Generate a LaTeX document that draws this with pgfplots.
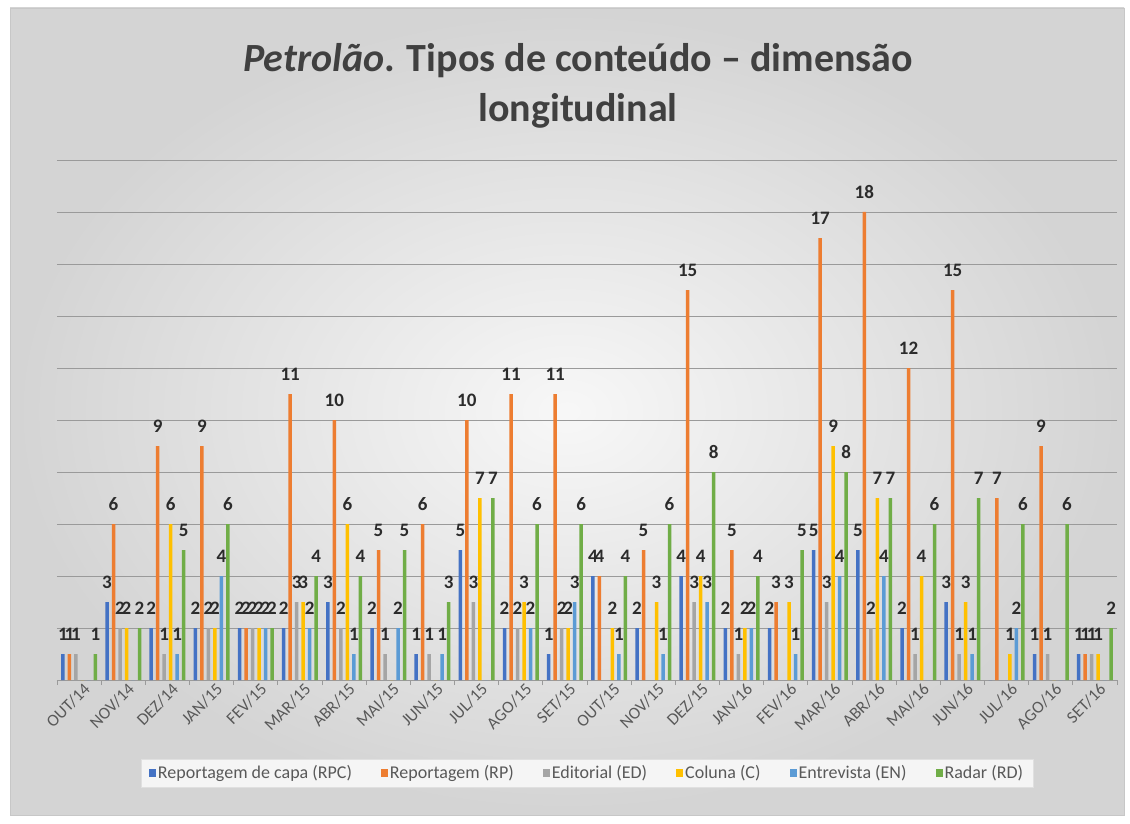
\documentclass[border=0pt]{standalone}
\usepackage{fontspec}
\setmainfont{Carlito}
\usepackage{pgfplots}
\usepackage{pgfplotstable}
\pgfplotsset{compat=1.18}
\definecolor{cRPC}{HTML}{4472C4}
\definecolor{cRP}{HTML}{ED7D31}
\definecolor{cED}{HTML}{A5A5A5}
\definecolor{cC}{HTML}{FFC000}
\definecolor{cEN}{HTML}{5B9BD5}
\definecolor{cRD}{HTML}{70AD47}
\definecolor{titlegray}{HTML}{404040}
\definecolor{valblack}{HTML}{2B2B2B}
\definecolor{labelgray}{HTML}{595959}
\definecolor{gridgray}{HTML}{9A9A9A}

\pgfplotstableread{
idx RPC RP ED C EN RD
0 1 1 1 0 0 1
1 3 6 2 2 0 2
2 2 9 1 6 1 5
3 2 9 2 2 4 6
4 2 2 2 2 2 2
5 2 11 3 3 2 4
6 3 10 2 6 1 4
7 2 5 1 0 2 5
8 1 6 1 0 1 3
9 5 10 3 7 0 7
10 2 11 2 3 2 6
11 1 11 2 2 3 6
12 4 4 0 2 1 4
13 2 5 0 3 1 6
14 4 15 3 4 3 8
15 2 5 1 2 2 4
16 2 3 0 3 1 5
17 5 17 3 9 4 8
18 5 18 2 7 4 7
19 2 12 1 4 0 6
20 3 15 1 3 1 7
21 0 7 0 1 2 6
22 1 9 1 0 0 6
23 1 1 1 1 0 2
}\datatable

\begin{document}
\begin{tikzpicture}
\useasboundingbox (0pt,0pt) rectangle (1130pt,823pt);
\fill[white] (0pt,0pt) rectangle (1130pt,823pt);
\shade[inner color=white!97!black, outer color=white!83!black] (10pt,8pt) rectangle (1124pt,815pt);
\draw[white!78!black, line width=0.8pt] (10pt,8pt) rectangle (1124pt,815pt);
\node[font=\fontsize{40}{50}\selectfont\bfseries, text=titlegray, align=center] at (578pt,737pt)
  {\textit{Petrolão}. Tipos de conteúdo – dimensão\\longitudinal};
\begin{axis}[
  at={(57pt,143pt)}, anchor=south west,
  scale only axis, width=1060pt, height=520pt,
  ybar=3pt, bar width=3.5pt,
  xmin=-0.5, xmax=23.5, ymin=0, ymax=20,
  xtick={0,...,23},
  xticklabels={OUT/14,NOV/14,DEZ/14,JAN/15,FEV/15,MAR/15,ABR/15,MAI/15,JUN/15,JUL/15,AGO/15,SET/15,OUT/15,NOV/15,DEZ/15,JAN/16,FEV/16,MAR/16,ABR/16,MAI/16,JUN/16,JUL/16,AGO/16,SET/16},
  minor xtick={-0.5,0.5,...,23.5},
  major x tick style={draw=none},
  minor x tick style={draw=gridgray, line width=0.8pt},
  minor tick length=5pt,
  tick align=outside,
  xticklabel style={rotate=45, anchor=north east, font=\fontsize{17}{17}\selectfont, text=labelgray, inner sep=1pt, xshift=5pt},
  ytick={0,2,...,20}, yticklabels={},
  ymajorgrids, grid style={gridgray, line width=0.9pt},
  axis x line*=bottom, axis y line*=left,
  x axis line style={-, draw=gridgray, line width=0.9pt},
  y axis line style={draw=none},
  major y tick style={draw=none},
  /pgf/number format/assume math mode=true,
  nodes near coords={\pgfmathfloatifflags{\pgfplotspointmeta}{0}{}{\pgfmathprintnumber{\pgfplotspointmeta}}},
  every node near coord/.append style={font=\fontsize{19}{19}\selectfont\bfseries, text=valblack, anchor=south, inner sep=2pt, yshift=11pt},
  legend columns=6,
  legend style={at={(0.5,-0.179)}, anchor=center, draw=white!88!black, fill=white!96!black,
    font=\fontsize{18}{18}\selectfont, text=labelgray, inner xsep=8pt, inner ysep=5pt,
    /tikz/every even column/.append style={column sep=27pt}},
  legend image code/.code={\fill[#1, draw=none] (0pt,-3.5pt) rectangle (7pt,4.5pt);},
]
\addplot[fill=cRPC, draw=none] table[x=idx, y=RPC] {\datatable};
\addplot[fill=cRP, draw=none] table[x=idx, y=RP] {\datatable};
\addplot[fill=cED, draw=none] table[x=idx, y=ED] {\datatable};
\addplot[fill=cC, draw=none] table[x=idx, y=C] {\datatable};
\addplot[fill=cEN, draw=none] table[x=idx, y=EN] {\datatable};
\addplot[fill=cRD, draw=none] table[x=idx, y=RD] {\datatable};
\legend{Reportagem de capa (RPC), Reportagem (RP), Editorial (ED), Coluna (C), Entrevista (EN), Radar (RD)}
\end{axis}
\end{tikzpicture}
\end{document}
